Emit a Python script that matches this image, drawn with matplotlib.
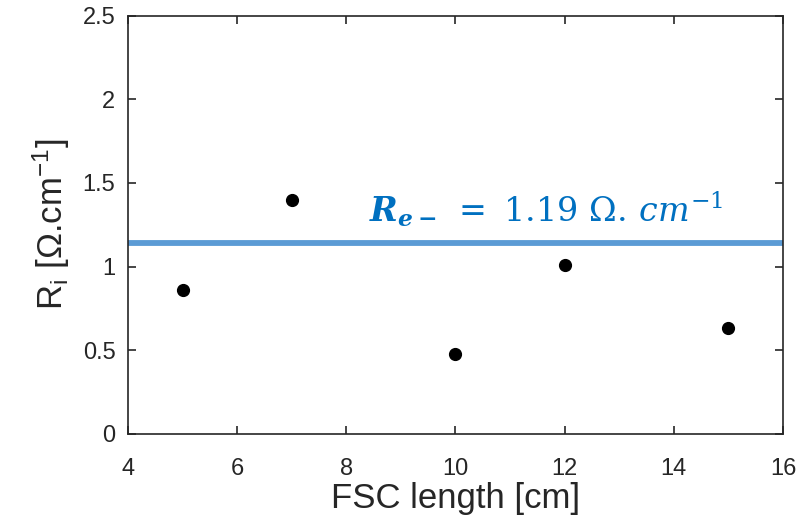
import matplotlib
matplotlib.use('Agg')
import matplotlib.pyplot as plt

# ── Data ─────────────────────────────────────────────────────────────────────
fsc_length = [5, 7, 10, 12, 15]
r_i        = [0.86, 1.40, 0.475, 1.01, 0.635]
r_mean     = 1.14
r_label    = 1.19

xticks = [4, 6, 8, 10, 12, 14, 16]
yticks = [0, 0.5, 1, 1.5, 2, 2.5]

AX_COLOR   = '#262626'
LINE_COLOR = '#5B9BD5'
TEXT_BLUE  = '#0070C0'

plt.rcParams.update({
    'font.family':        'Liberation Sans',
    'mathtext.fontset':   'custom',
    'mathtext.rm':        'DejaVu Serif',
    'mathtext.it':        'DejaVu Serif:italic',
    'mathtext.bf':        'DejaVu Serif:bold',
    'mathtext.bfit':      'DejaVu Serif:bold:italic',
})

fig = plt.figure(figsize=(7.97, 5.22), dpi=100)
ax = fig.add_axes([128 / 797, 1 - 434 / 522, (783 - 128) / 797, (434 - 15.5) / 522])

ax.axhline(r_mean, color=LINE_COLOR, linewidth=4.2, zorder=2)
ax.scatter(fsc_length, r_i, s=72, color='black', zorder=3)

ax.text(8.42, r_mean + 0.13,
        r'$\mathbfit{R}_{\mathbfit{e-}}\ =\ \mathrm{%.2f}\ \Omega.\,cm^{-1}$' % r_label,
        color=TEXT_BLUE, fontsize=24, ha='left', va='baseline')

ax.set_xlim(4, 16)
ax.set_ylim(0, 2.5)
ax.set_xticks(xticks)
ax.set_yticks(yticks)
ax.set_yticklabels(['0', '0.5', '1', '1.5', '2', '2.5'])

ax.tick_params(direction='in', top=True, right=True, length=6, width=1.2,
               colors=AX_COLOR, labelsize=17)
ax.tick_params(axis='x', pad=17)
ax.tick_params(axis='y', pad=9)
for s in ax.spines.values():
    s.set_color(AX_COLOR)
    s.set_linewidth(1.2)

ax.set_xlabel('FSC length [cm]', fontsize=25, color=AX_COLOR, labelpad=2)
ax.set_ylabel(r'R$_\mathregular{i}$ [Ω.cm$^\mathregular{-1}$]', fontsize=25,
              color=AX_COLOR, labelpad=8)

plt.savefig('out.png', dpi=100)
